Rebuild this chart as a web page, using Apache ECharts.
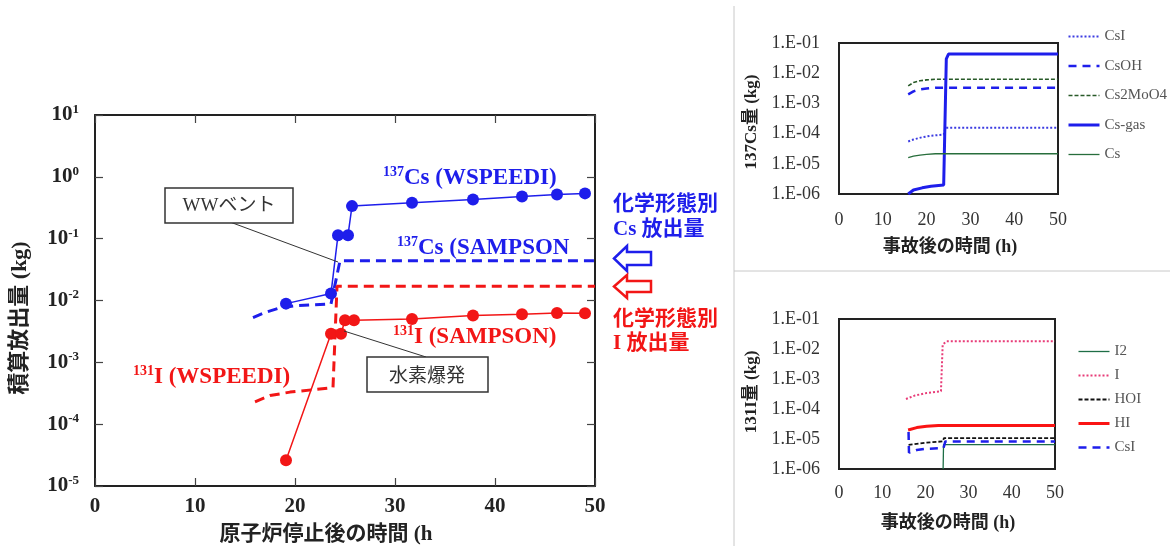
<!DOCTYPE html>
<html><head><meta charset="utf-8">
<script src="https://cdn.jsdelivr.net/npm/echarts@6/dist/echarts.min.js"></script>
<style>html,body{margin:0;padding:0;background:#fff}#c{width:1170px;height:546px}</style>
</head><body><div id="c"></div>
<script>
// ---------- data ----------
// main chart (x: hours after reactor shutdown, y: cumulative release kg)
const csWspeedi = [[19.1,0.0089],[23.6,0.013],[24.3,0.114],[25.3,0.114],[25.7,0.336],[31.7,0.38],[37.8,0.43],[42.7,0.48],[46.2,0.52],[49.0,0.54]];
const iWspeedi  = [[19.1,2.6e-5],[23.6,0.0029],[24.6,0.0029],[25.0,0.0048],[25.9,0.0048],[31.7,0.005],[37.8,0.0057],[42.7,0.006],[46.2,0.0063],[49.0,0.0062]];
const csSampson = [[15.8,0.0053],[17,0.0064],[18.5,0.0076],[20,0.0082],[23.6,0.0088],[24.5,0.044],[50,0.044]];
const iSampson  = [[16.0,2.3e-4],[17.5,2.9e-4],[19.5,3.3e-4],[23.8,3.9e-4],[24.2,0.017],[50,0.017]];
// top-right: 137Cs chemical forms
const csI_cs   = [[15.8,5.5e-5],[17,6.4e-5],[19,7.6e-5],[21,8.5e-5],[23.9,9.3e-5],[24.3,1.55e-4],[50,1.55e-4]];
const csOH     = [[15.8,0.002],[17,0.0025],[18.5,0.0029],[20,0.0031],[22,0.0033],[50,0.0033]];
const cs2MoO4  = [[15.8,0.0038],[17,0.0049],[18.5,0.0056],[20,0.006],[22,0.0063],[50,0.0063]];
const csGas    = [[15.8,1e-6],[17,1.35e-6],[19,1.6e-6],[21,1.8e-6],[23.9,2e-6],[24.5,0.03],[25,0.043],[50,0.043]];
const csElem   = [[15.8,1.6e-5],[17,1.8e-5],[18.5,1.95e-5],[20,2.05e-5],[22,2.15e-5],[50,2.15e-5]];
// bottom-right: 131I chemical forms
const i2    = [[24.1,1e-6],[24.2,6.5e-6],[50,6.5e-6]];
const iElem = [[15.5,2.15e-4],[17.5,2.8e-4],[20.3,3.4e-4],[23.6,3.9e-4],[24.0,0.014],[24.9,0.018],[50,0.018]];
const hoi   = [[16.1,6.4e-6],[20,7.5e-6],[24.0,8.3e-6],[24.3,1.07e-5],[50,1.07e-5]];
const hi    = [[16.0,2.0e-5],[18,2.4e-5],[20.3,2.65e-5],[23,2.8e-5],[50,2.8e-5]];
const csI_i = [[16.1,1.7e-5],[16.2,3.5e-6],[18,4.3e-6],[20,4.7e-6],[24.2,5e-6],[24.6,8.3e-6],[50,8.3e-6]];
const xTicks = [0,10,20,30,40,50];

// ---------- styles ----------
const BLUE = 'rgb(30,30,235)', RED = 'rgb(242,22,22)';
const SERIF = "'Liberation Serif','Times New Roman',serif";
const CJK = "'Liberation Serif','Noto Sans CJK JP',sans-serif";
const G = "'Noto Sans CJK JP',sans-serif";

const chart = echarts.init(document.getElementById('c'));

const mainYLabel = {
  margin: 16,
  formatter: v => '{b|10}{s|' + Math.round(Math.log10(v)) + '}',
  rich: {
    b: {fontFamily: SERIF, fontWeight: 'bold', fontSize: 21, color: '#222', lineHeight: 24},
    s: {fontFamily: SERIF, fontWeight: 'bold', fontSize: 13, color: '#222', verticalAlign: 'top', lineHeight: 14}
  }
};
const eLabel = v => { const e = Math.round(Math.log10(v)); return '1.E' + (e < 0 ? '-' : '+') + String(Math.abs(e)).padStart(2, '0'); };
const boxLine = {show: true, onZero: false, lineStyle: {color: '#222', width: 2}};
const inTick = {show: true, inside: true, length: 8, lineStyle: {color: '#444', width: 1.2}};

const option = {
  animation: false,
  backgroundColor: '#fff',
  grid: [
    {left: 95, top: 115, width: 500, height: 371},
    {left: 839, top: 43, width: 219, height: 151, show: true, borderColor: '#222', borderWidth: 2},
    {left: 839, top: 319, width: 216, height: 150, show: true, borderColor: '#222', borderWidth: 2}
  ],
  xAxis: [
    {gridIndex: 0, type: 'value', min: xTicks[0], max: xTicks[xTicks.length-1], interval: 10, axisLine: boxLine, axisTick: inTick, splitLine: {show: false},
     axisLabel: {margin: 10, fontFamily: SERIF, fontWeight: 'bold', fontSize: 21, color: '#222'}},
    {gridIndex: 0, type: 'value', position: 'top', min: 0, max: 50, interval: 10, axisLine: boxLine, axisTick: inTick, splitLine: {show: false}, axisLabel: {show: false}},
    {gridIndex: 1, type: 'value', min: 0, max: 50, interval: 10, axisLine: {show: false}, axisTick: {show: false}, splitLine: {show: false},
     axisLabel: {margin: 17, fontFamily: SERIF, fontSize: 18, color: '#333'}},
    {gridIndex: 2, type: 'value', min: 0, max: 50, interval: 10, axisLine: {show: false}, axisTick: {show: false}, splitLine: {show: false},
     axisLabel: {margin: 15, fontFamily: SERIF, fontSize: 18, color: '#333'}}
  ],
  yAxis: [
    {gridIndex: 0, type: 'log', logBase: 10, min: 1e-5, max: 10, axisLine: boxLine, axisTick: inTick, splitLine: {show: false}, axisLabel: mainYLabel},
    {gridIndex: 0, type: 'log', logBase: 10, min: 1e-5, max: 10, position: 'right', axisLine: boxLine, axisTick: inTick, splitLine: {show: false}, axisLabel: {show: false}},
    {gridIndex: 1, type: 'log', logBase: 10, min: 1e-6, max: 1e-1, axisLine: {show: false}, axisTick: {show: false}, splitLine: {show: false},
     axisLabel: {margin: 19, formatter: eLabel, fontFamily: SERIF, fontSize: 18, color: '#333'}},
    {gridIndex: 2, type: 'log', logBase: 10, min: 1e-6, max: 1e-1, axisLine: {show: false}, axisTick: {show: false}, splitLine: {show: false},
     axisLabel: {margin: 19, formatter: eLabel, fontFamily: SERIF, fontSize: 18, color: '#333'}}
  ],
  legend: [
    {data: ['CsI','CsOH','Cs2MoO4','Cs-gas','Cs'], orient: 'vertical', left: 1067, top: 29, padding: 0,
     itemWidth: 31, itemHeight: 14, itemGap: 14.5, selectedMode: false,
     itemStyle: {opacity: 0}, lineStyle: {width: 'inherit'},
     textStyle: {fontFamily: SERIF, fontSize: 15, color: '#555'}},
    {data: ['I2','I','HOI','HI','CsI '], orient: 'vertical', left: 1077, top: 344, padding: 0,
     itemWidth: 31, itemHeight: 14, itemGap: 9, selectedMode: false,
     itemStyle: {opacity: 0}, lineStyle: {width: 'inherit'},
     textStyle: {fontFamily: SERIF, fontSize: 15, color: '#555'}}
  ],
  series: [
    // main
    {name: 'Cs SAMPSON', type: 'line', xAxisIndex: 0, yAxisIndex: 0, data: csSampson, symbol: 'none', lineStyle: {color: BLUE, width: 3, type: [10, 6]}, z: 3},
    {name: 'I SAMPSON', type: 'line', xAxisIndex: 0, yAxisIndex: 0, data: iSampson, symbol: 'none', lineStyle: {color: RED, width: 3, type: [10, 6]}, z: 3},
    {name: 'Cs WSPEEDI', type: 'line', xAxisIndex: 0, yAxisIndex: 0, data: csWspeedi, symbol: 'circle', symbolSize: 12, itemStyle: {color: BLUE}, lineStyle: {color: BLUE, width: 1.5}, z: 4},
    {name: 'I WSPEEDI', type: 'line', xAxisIndex: 0, yAxisIndex: 0, data: iWspeedi, symbol: 'circle', symbolSize: 12, itemStyle: {color: RED}, lineStyle: {color: RED, width: 1.5}, z: 4},
    // top-right
    {name: 'CsI', type: 'line', xAxisIndex: 2, yAxisIndex: 2, data: csI_cs, symbol: 'none', itemStyle: {color: 'rgb(60,60,225)'}, lineStyle: {color: 'rgb(60,60,225)', width: 2, type: [2, 2]}},
    {name: 'CsOH', type: 'line', xAxisIndex: 2, yAxisIndex: 2, data: csOH, symbol: 'none', itemStyle: {color: BLUE}, lineStyle: {color: BLUE, width: 2.5, type: [8, 6]}},
    {name: 'Cs2MoO4', type: 'line', xAxisIndex: 2, yAxisIndex: 2, data: cs2MoO4, symbol: 'none', itemStyle: {color: 'rgb(40,90,40)'}, lineStyle: {color: 'rgb(40,90,40)', width: 1.6, type: [4, 2]}},
    {name: 'Cs-gas', type: 'line', xAxisIndex: 2, yAxisIndex: 2, data: csGas, symbol: 'none', itemStyle: {color: BLUE}, lineStyle: {color: BLUE, width: 3}},
    {name: 'Cs', type: 'line', xAxisIndex: 2, yAxisIndex: 2, data: csElem, symbol: 'none', itemStyle: {color: 'rgb(40,110,60)'}, lineStyle: {color: 'rgb(40,110,60)', width: 1.3}},
    // bottom-right
    {name: 'I2', type: 'line', xAxisIndex: 3, yAxisIndex: 3, data: i2, symbol: 'none', itemStyle: {color: 'rgb(30,110,70)'}, lineStyle: {color: 'rgb(30,110,70)', width: 1.3}},
    {name: 'I', type: 'line', xAxisIndex: 3, yAxisIndex: 3, data: iElem, symbol: 'none', itemStyle: {color: 'rgb(232,60,120)'}, lineStyle: {color: 'rgb(232,60,120)', width: 2, type: [2, 2]}},
    {name: 'HOI', type: 'line', xAxisIndex: 3, yAxisIndex: 3, data: hoi, symbol: 'none', itemStyle: {color: '#111'}, lineStyle: {color: '#111', width: 1.8, type: [4, 2]}},
    {name: 'HI', type: 'line', xAxisIndex: 3, yAxisIndex: 3, data: hi, symbol: 'none', itemStyle: {color: 'rgb(250,20,20)'}, lineStyle: {color: 'rgb(250,20,20)', width: 3}},
    {name: 'CsI ', type: 'line', xAxisIndex: 3, yAxisIndex: 3, data: csI_i, symbol: 'none', itemStyle: {color: BLUE}, lineStyle: {color: BLUE, width: 2.5, type: [8, 6]}}
  ]
};

function supText(x, y, sup, main, color) {
  return {type: 'text', x: x, y: y, z: 10, style: {
    text: '{s|' + sup + '}{b|' + main + '}', fill: color, align: 'left', verticalAlign: 'middle',
    rich: {s: {fontFamily: SERIF, fontWeight: 'bold', fontSize: 14, fill: color, verticalAlign: 'top', lineHeight: 14},
           b: {fontFamily: SERIF, fontWeight: 'bold', fontSize: 23, fill: color, lineHeight: 26}}}};
}
function plainText(x, y, text, font, color, rot, align) {
  return {type: 'text', x: x, y: y, rotation: rot || 0, z: 10, style: {text: text, font: font, fill: color, align: align || 'center', verticalAlign: 'middle'}};
}

option.graphic = [
  // dividers
  {type: 'line', shape: {x1: 734, y1: 6, x2: 734, y2: 546}, style: {stroke: '#c8c8c8', lineWidth: 1}},
  {type: 'line', shape: {x1: 734, y1: 271, x2: 1170, y2: 271}, style: {stroke: '#c8c8c8', lineWidth: 1}},
  // axis titles main
  plainText(20, 318, '積算放出量 (kg)', 'bold 22px ' + CJK, '#222', Math.PI / 2),
  plainText(326, 535, '原子炉停止後の時間 (h', 'bold 21px ' + CJK, '#222'),
  // axis titles right
  plainText(752, 122, '137Cs量 (kg)', 'bold 17px ' + CJK, '#222', Math.PI / 2),
  plainText(950, 247, '事故後の時間 (h)', 'bold 18px ' + CJK, '#222'),
  plainText(752, 392, '131I量 (kg)', 'bold 17px ' + CJK, '#222', Math.PI / 2),
  plainText(948, 523, '事故後の時間 (h)', 'bold 18px ' + CJK, '#222'),
  // series annotations
  supText(383, 178, '137', 'Cs (WSPEEDI)', BLUE),
  supText(397, 248, '137', 'Cs (SAMPSON', BLUE),
  supText(393, 337, '131', 'I (SAMPSON)', RED),
  supText(133, 377, '131', 'I (WSPEEDI)', RED),
  // callout boxes
  {type: 'line', z: 9, shape: {x1: 230, y1: 222, x2: 338, y2: 262}, style: {stroke: '#333', lineWidth: 1}},
  {type: 'rect', z: 9, shape: {x: 165, y: 188, width: 128, height: 35}, style: {fill: '#fff', stroke: '#333', lineWidth: 1.5}},
  plainText(229, 206, 'WWベント', '19px ' + CJK, '#333'),
  {type: 'line', z: 9, shape: {x1: 426, y1: 357, x2: 344, y2: 331}, style: {stroke: '#333', lineWidth: 1}},
  {type: 'rect', z: 9, shape: {x: 367, y: 357, width: 121, height: 35}, style: {fill: '#fff', stroke: '#333', lineWidth: 1.5}},
  plainText(427, 375, '水素爆発', '19px ' + G, '#333'),
  // right-side labels
  plainText(613, 202, '化学形態別', 'bold 21px ' + G, BLUE, 0, 'left'),
  plainText(613, 230, 'Cs 放出量', 'bold 21px ' + CJK, BLUE, 0, 'left'),
  plainText(613, 317, '化学形態別', 'bold 21px ' + G, RED, 0, 'left'),
  plainText(613, 344, 'I 放出量', 'bold 21px ' + CJK, RED, 0, 'left'),
  {type: 'polygon', shape: {points: [[614,258.5],[627,246],[627,252],[651,252],[651,265],[627,265],[627,271]]}, style: {fill: '#fff', stroke: BLUE, lineWidth: 2.5}},
  {type: 'polygon', shape: {points: [[614,286.5],[627,275],[627,281],[651,281],[651,292],[627,292],[627,298]]}, style: {fill: '#fff', stroke: RED, lineWidth: 2.5}}
];

chart.setOption(option);
</script></body></html>
